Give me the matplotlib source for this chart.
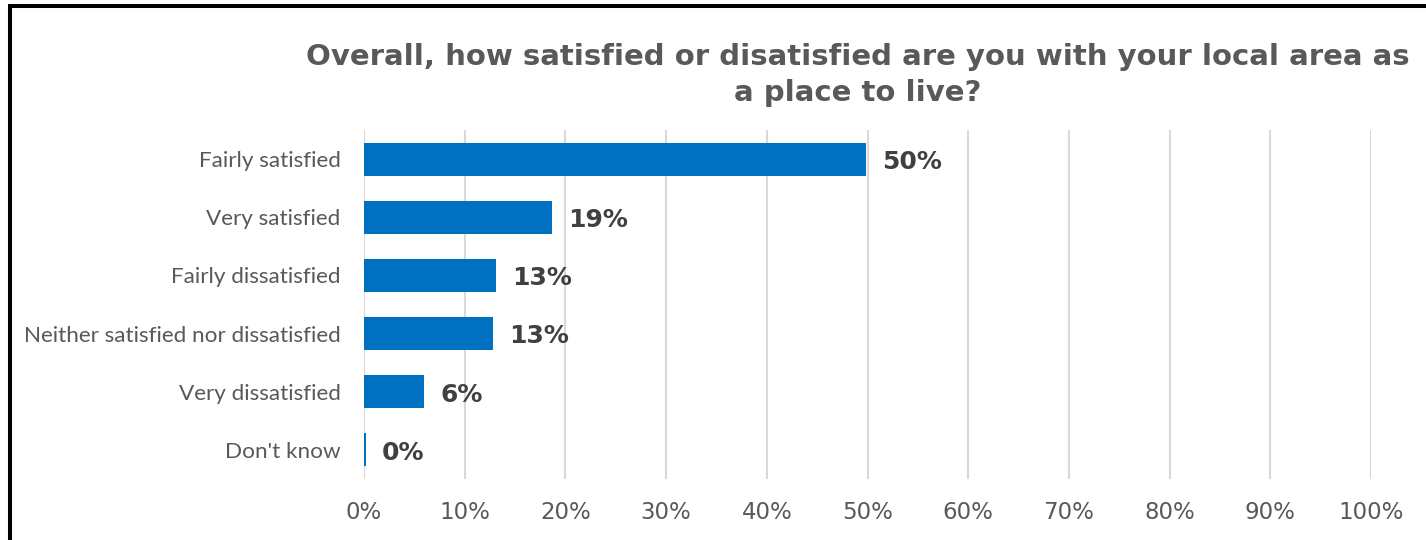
import matplotlib
matplotlib.use('Agg')
import matplotlib.pyplot as plt
from matplotlib.lines import Line2D
from matplotlib.ticker import PercentFormatter

# survey responses, in display order (top to bottom)
categories = [
    "Fairly satisfied",
    "Very satisfied",
    "Fairly dissatisfied",
    "Neither satisfied nor dissatisfied",
    "Very dissatisfied",
    "Don't know",
]
shares = [49.9, 18.7, 13.1, 12.8, 6.0, 0.2]
x_ticks = list(range(0, 101, 10))

title = "Overall, how satisfied or disatisfied are you with your local area as\na place to live?"

BAR_BLUE = "#0070C0"
GRID_GREY = "#D9D9D9"
TEXT_GREY = "#595959"
LABEL_DARK = "#404040"

fig = plt.figure(figsize=(14.26, 5.4), dpi=100)
ax = fig.add_axes([364 / 1426, 1 - 479 / 540, (1371 - 364) / 1426, (479 - 130) / 540])

ypos = list(range(len(categories)))
ax.barh(ypos, shares, height=0.57, color=BAR_BLUE, zorder=3)

for y, v in zip(ypos, shares):
    ax.annotate(f"{v:.0f}%", xy=(v, y), xytext=(11.5, -2), textcoords="offset points",
                va="center", ha="left", fontsize=18, fontweight="bold",
                color=LABEL_DARK, family="DejaVu Sans")

ax.set_xlim(0, 100)
ax.set_ylim(len(categories) - 0.5, -0.5)
ax.set_xticks(x_ticks)
ax.xaxis.set_major_formatter(PercentFormatter(decimals=0))
ax.set_yticks(ypos)
ax.set_yticklabels(categories, family="Lato", fontsize=16.2, color=TEXT_GREY)
for lbl in ax.get_xticklabels():
    lbl.set_fontsize(16.5)
    lbl.set_color(TEXT_GREY)
    lbl.set_family("DejaVu Sans")
ax.tick_params(axis="both", length=0)
ax.tick_params(axis="y", pad=17)
ax.tick_params(axis="x", pad=16)

ax.grid(axis="x", color=GRID_GREY, linewidth=1.5, zorder=0)
for s in ax.spines.values():
    s.set_visible(False)

fig.text(858 / 1426, 1 - 75 / 540, title, ha="center", va="center",
         fontsize=21, fontweight="bold", color=TEXT_GREY, family="DejaVu Sans",
         linespacing=1.35)

# chart-area frame: only the left and top edges fall inside the image
fig.add_artist(Line2D([9.5 / 1426, 9.5 / 1426], [0, 1 - 4 / 540],
                      transform=fig.transFigure, color="black", linewidth=2.9,
                      solid_capstyle="butt"))
fig.add_artist(Line2D([7.5 / 1426, 1], [1 - 6 / 540, 1 - 6 / 540],
                      transform=fig.transFigure, color="black", linewidth=2.9,
                      solid_capstyle="butt"))

fig.savefig("out.png", dpi=100)
